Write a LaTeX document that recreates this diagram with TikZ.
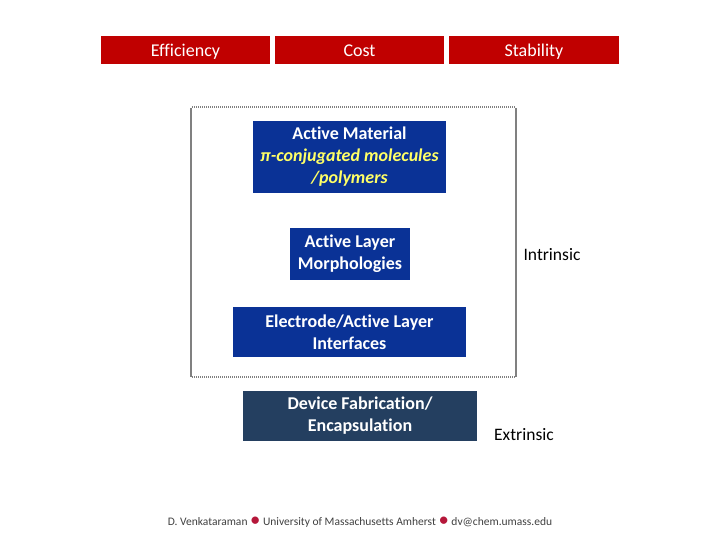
\documentclass[tikz,border=0pt]{standalone}
\usepackage{fontspec}
\setmainfont[Ligatures=NoCommon]{Carlito}
\usetikzlibrary{positioning}
\definecolor{hdred}{HTML}{C00000}
\definecolor{layblue}{HTML}{0A3296}
\definecolor{devslate}{HTML}{243F60}
\definecolor{pitext}{HTML}{FFFF66}
\definecolor{framegray}{HTML}{808080}
\definecolor{footgray}{HTML}{404040}
\definecolor{dotred}{HTML}{B5173A}
\tikzset{
  header/.style={fill=hdred,text=white,minimum width=169pt,minimum height=28pt,inner sep=0pt,
    text height=14.5pt,text depth=1.5pt,font=\fontsize{18}{20}\selectfont},
  layer/.style={fill=layblue,text=white,align=center,inner sep=0pt,font=\bfseries\fontsize{18}{22}\selectfont},
  side/.style={font=\fontsize{17.5}{20}\selectfont}
}
\begin{document}
\begin{tikzpicture}[x=1pt,y=-1pt]
  \useasboundingbox[fill=white] (0,0) rectangle (720,540);
  % criteria
  \node[header] (eff) at (185.5,50) {Efficiency};
  \node[header] (cost) at (359.5,50) {Cost};
  \node[header,minimum width=170pt] (stab) at (534,50) {Stability};
  % intrinsic frame
  \draw[framegray,line width=2pt] (191,108)--(191,377);
  \draw[framegray,line width=2pt] (516,108)--(516,377);
  \draw[framegray,line width=1.2pt,dash pattern=on 1pt off 1pt] (192,107)--(516,107);
  \draw[framegray,line width=1.2pt,dash pattern=on 1pt off 1pt] (192,377)--(516,377);
  % layers
  \node[layer,minimum width=193pt,minimum height=72pt] (mat) at (349.5,157)
    {Active Material\\ \textcolor{pitext}{\itshape π-conjugated molecules}\\ \textcolor{pitext}{\itshape /polymers}};
  \node[layer,minimum width=120pt,minimum height=51pt] (morph) at (350,254)
    {Active Layer\\ Morphologies};
  \node[layer,minimum width=233pt,minimum height=50pt] (elec) at (349.5,332)
    {Electrode/Active Layer\\ Interfaces};
  \node[layer,fill=devslate,minimum width=234pt,minimum height=50pt] (dev) at (360,416)
    {Device Fabrication/\\ Encapsulation};
  \node[side] (intr) at (552,255) {Intrinsic};
  \node[side] (extr) at (524,435) {Extrinsic};
  % footer
  \node[text=footgray,font=\fontsize{11.5}{13}\selectfont] (foot) at (360,522)
    {D. Venkataraman \textcolor{dotred}{\raisebox{-0.3ex}{\huge •}} University of Massachusetts Amherst \textcolor{dotred}{\raisebox{-0.3ex}{\huge •}} dv@chem.umass.edu};
\end{tikzpicture}
\end{document}
